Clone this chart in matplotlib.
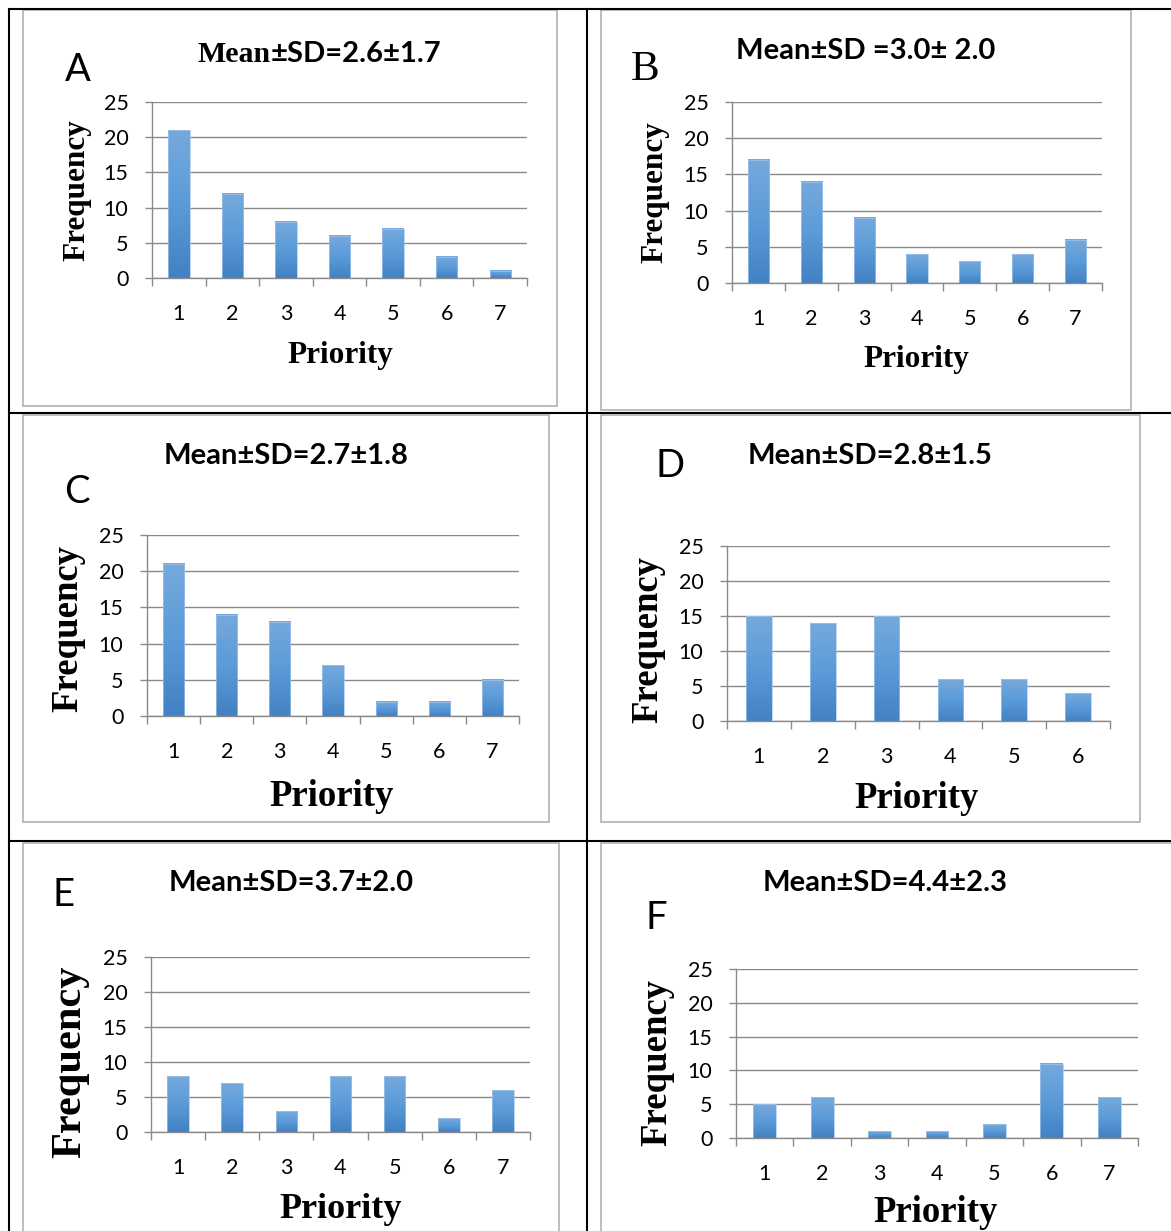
import matplotlib
matplotlib.use("Agg")
import matplotlib.pyplot as plt
import numpy as np
from matplotlib.colors import LinearSegmentedColormap
from matplotlib.lines import Line2D
from matplotlib.patches import Rectangle

W, H = 1171, 1231

# --- data ---
freq_a = [21, 12, 8, 6, 7, 3, 1]
freq_b = [17, 14, 9, 4, 3, 4, 6]
freq_c = [21, 14, 13, 7, 2, 2, 5]
freq_d = [15, 14, 15, 6, 6, 4]
freq_e = [8, 7, 3, 8, 8, 2, 6]
freq_f = [5, 6, 1, 1, 2, 11, 6]

titles = ["Mean±SD=2.6±1.7", "Mean±SD =3.0± 2.0", "Mean±SD=2.7±1.8",
          "Mean±SD=2.8±1.5", "Mean±SD=3.7±2.0", "Mean±SD=4.4±2.3"]
letters = ["A", "B", "C", "D", "E", "F"]
y_ticks = [0, 5, 10, 15, 20, 25]

SANS = ["Lato", "DejaVu Sans"]
SERIF = ["Liberation Serif", "DejaVu Serif"]
GRID = "#8a8a8a"
bar_cmap = LinearSegmentedColormap.from_list("bar", ["#4282c4", "#5b9bd8", "#75a9dd"])
TICK_SIZE = 15.5
TITLE_SIZE = 21

# panel layout in pixels: axes box (x0, x1, y_top, y_bottom), label spots, sizes
panels = [
    dict(data=freq_a, ax=(152, 527, 102, 278), box=(23, 557, 10, 406),
         title=(316, 54), letter=(78, 70), xlab=(340, 356), ylab=(77, 190),
         lab_size=22.5, ylab_size=22.5, letter_serif=False, mixed_title=True),
    dict(data=freq_b, ax=(732, 1102, 102, 283), box=(601, 1131, 10, 410),
         title=(866, 51), letter=(645, 70), xlab=(916, 360), ylab=(655, 192),
         lab_size=22.5, ylab_size=22.5, letter_serif=True, mixed_title=False),
    dict(data=freq_c, ax=(147, 519, 535, 716), box=(23, 549, 415, 822),
         title=(286, 456), letter=(77, 492), xlab=(332, 796), ylab=(68, 628),
         lab_size=26.5, ylab_size=26.5, letter_serif=False, mixed_title=False),
    dict(data=freq_d, ax=(727, 1110, 546, 721), box=(601, 1140, 415, 822),
         title=(870, 456), letter=(670, 466), xlab=(917, 798), ylab=(648, 640),
         lab_size=26.5, ylab_size=26.5, letter_serif=False, mixed_title=False),
    dict(data=freq_e, ax=(151, 530, 957, 1132), box=(23, 559, 843, 1240),
         title=(291, 883), letter=(64, 895), xlab=(341, 1210), ylab=(70, 1062),
         lab_size=26, ylab_size=30.5, letter_serif=False, mixed_title=False),
    dict(data=freq_f, ax=(736, 1138, 969, 1138), box=(601, 1180, 843, 1240),
         title=(885, 883), letter=(656, 918), xlab=(936, 1212), ylab=(657, 1062),
         lab_size=26.5, ylab_size=26.5, letter_serif=False, mixed_title=False),
]


def fx(x):
    return x / W


def fy(y):
    return 1 - y / H


fig = plt.figure(figsize=(W / 100, H / 100), dpi=100)
fig.patch.set_facecolor("white")

# table grid lines
for x in (9, 587):
    fig.add_artist(Line2D([fx(x), fx(x)], [0, fy(9)], color="black", lw=1.5))
for y in (9, 413, 841):
    fig.add_artist(Line2D([fx(9), 1], [fy(y), fy(y)], color="black", lw=1.5))

grad = np.linspace(0, 1, 64).reshape(-1, 1)

for i, p in enumerate(panels):
    # gray chart frame
    bx0, bx1, by0, by1 = p["box"]
    fig.add_artist(Rectangle((fx(bx0), fy(by1)), fx(bx1 - bx0), (by1 - by0) / H,
                             transform=fig.transFigure, fill=False,
                             edgecolor="#ababab", lw=1.1))

    x0, x1, yt, yb = p["ax"]
    ax = fig.add_axes([fx(x0), fy(yb), fx(x1 - x0), (yb - yt) / H])
    vals = p["data"]
    n = len(vals)
    cats = np.arange(1, n + 1)

    bars = ax.bar(cats, vals, width=0.4, color="#5b9bd5", zorder=2)
    for r in bars:
        bx, bw, bh = r.get_x(), r.get_width(), r.get_height()
        ax.imshow(grad, extent=(bx, bx + bw, 0, bh), aspect="auto", cmap=bar_cmap,
                  origin="lower", zorder=2.5)
        ax.add_patch(Rectangle((bx, 0), bw, bh, fill=False, edgecolor="#a3c5ea",
                               lw=0.5, zorder=3))

    ax.set_xlim(0.5, n + 0.5)
    ax.set_ylim(0, 25)
    ax.set_yticks(y_ticks)
    ax.set_xticks(np.arange(0.5, n + 1, 1.0))
    ax.set_xticklabels([])
    ax.set_xticks(cats, minor=True)
    ax.set_xticklabels([str(c) for c in cats], minor=True)
    ax.tick_params(axis="x", which="major", length=6, width=1, color=GRID)
    ax.tick_params(axis="x", which="minor", length=0, pad=18.5,
                   labelsize=TICK_SIZE, labelcolor="black")
    ax.tick_params(axis="y", length=5, width=1, color=GRID, pad=12,
                   labelsize=TICK_SIZE, labelcolor="black")
    for lab in ax.get_xticklabels(minor=True) + ax.get_yticklabels():
        lab.set_family(SANS)

    ax.grid(axis="y", color=GRID, lw=1.0, zorder=0.5)
    ax.set_axisbelow(True)
    for s in ("top", "right"):
        ax.spines[s].set_visible(False)
    for s in ("left", "bottom"):
        ax.spines[s].set_color(GRID)
        ax.spines[s].set_linewidth(1.0)
        ax.spines[s].set_zorder(4)
    ax.set_facecolor("none")

    # axis titles
    fig.text(fx(p["xlab"][0]), fy(p["xlab"][1]), "Priority", family=SERIF,
             weight="bold", size=p["lab_size"], ha="center", va="center")
    fig.text(fx(p["ylab"][0]), fy(p["ylab"][1]), "Frequency", family=SERIF,
             weight="bold", size=p["ylab_size"], ha="center", va="center",
             rotation=90)

    # panel letter
    fig.text(fx(p["letter"][0]), fy(p["letter"][1]), letters[i],
             family=SERIF if p["letter_serif"] else SANS,
             size=31 if p["letter_serif"] else 27.5, ha="center", va="center")

    # chart title
    tx, ty = p["title"]
    if p["mixed_title"]:
        fig.canvas.draw()
        rend = fig.canvas.get_renderer()
        head = fig.text(fx(197), fy(ty), "Mean", family=SERIF, weight="bold",
                        size=21.5, ha="left", va="center")
        ext = head.get_window_extent(rend)
        fig.text(ext.x1 / W, fy(ty), titles[i][4:], family=SANS, weight="bold",
                 size=TITLE_SIZE, ha="left", va="center")
    else:
        fig.text(fx(tx), fy(ty), titles[i], family=SANS, weight="bold",
                 size=TITLE_SIZE, ha="center", va="center")

fig.savefig("out.png", dpi=100, facecolor="white")
